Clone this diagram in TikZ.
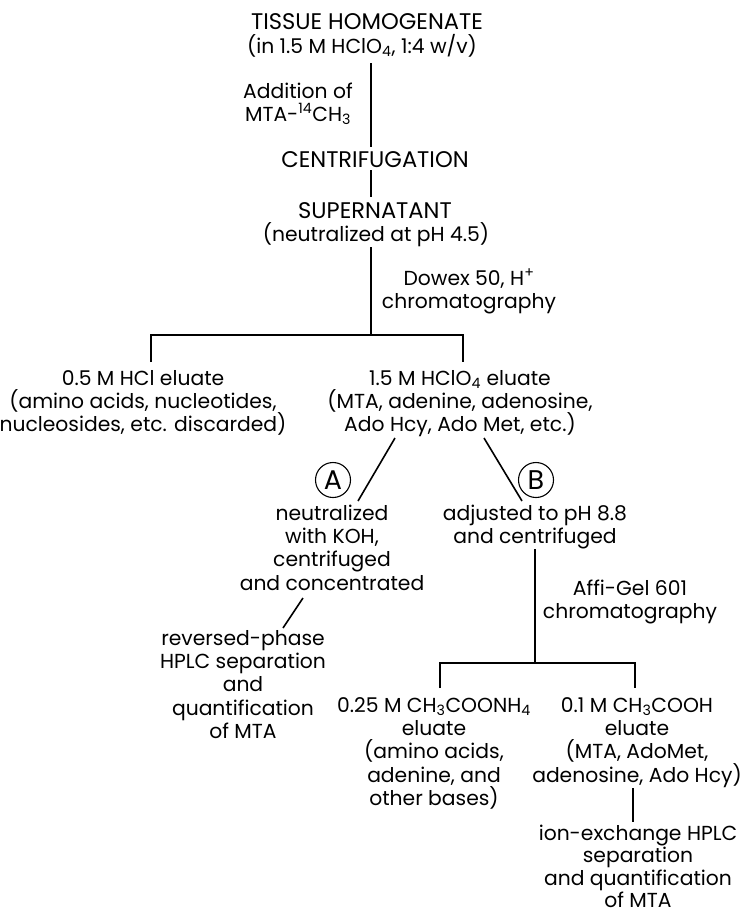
\documentclass[tikz,border=0pt]{standalone}
\usepackage{fontspec}
\setmainfont{Poppins}
% first-line strut: every block hangs 20pt above its first baseline
\newcommand\lead{\rule{0pt}{20pt}}
\begin{document}
\begin{tikzpicture}[x=1pt,y=-1pt,
  txt/.style={align=center,inner sep=0pt,anchor=north,font=\fontsize{20.3}{23.3}\selectfont},
  caps/.style={align=center,inner sep=0pt,anchor=north,font=\fontsize{22.6}{23.3}\selectfont},
  link/.style={line width=1.6pt},
  tag/.style={draw,circle,line width=1.1pt,inner sep=0pt,minimum size=35pt,font=\fontsize{27}{27}\selectfont}]
\useasboundingbox (0,0) rectangle (744,916);
% main column (anchor y = first baseline - 20)
\node[caps] (tissue)  at (367,9)   {\lead TISSUE HOMOGENATE};
\node[txt]  (tissue2) at (362,33)  {\lead(in 1.5 M HClO\textsubscript{4}, 1:4 w/v)};
\node[txt]  (add)     at (298,78)  {\lead Addition of\\MTA-\textsuperscript{14}CH\textsubscript{3}};
\node[caps] (centri)  at (375,147) {\lead CENTRIFUGATION};
\node[caps] (super)   at (375,198) {\lead SUPERNATANT};
\node[txt]  (super2)  at (376,221) {\lead(neutralized at pH 4.5)};
\node[txt]  (dowex)   at (469,265) {\lead Dowex 50, H\textsuperscript{+}\\chromatography};
% Dowex 50 eluates
\node[txt] (hcl)  at (143,365) {\lead 0.5 M HCl eluate\\(amino acids, nucleotides,\\nucleosides, etc. discarded)};
\node[txt] (hclo) at (460,365) {\lead 1.5 M HClO\textsubscript{4} eluate\\(MTA, adenine, adenosine,\\Ado Hcy, Ado Met, etc.)};
% route A
\node[tag] (ta) at (333,480) {A};
\node[txt] (neut) at (332,500) {\lead neutralized\\with KOH,\\centrifuged\\and concentrated};
\node[txt] (rp)   at (243,625) {\lead reversed-phase\\HPLC separation\\and\\quantification\\of MTA};
% route B
\node[tag] (tb) at (536,480) {B};
\node[txt] (adj)  at (535,500) {\lead adjusted to pH 8.8\\and centrifuged};
\node[txt] (affi) at (630,575) {\lead Affi-Gel 601\\chromatography};
\node[txt] (amm)  at (434,692) {\lead 0.25 M CH\textsubscript{3}COONH\textsubscript{4}\\eluate\\(amino acids,\\adenine, and\\other bases)};
\node[txt] (acet) at (637,692) {\lead 0.1 M CH\textsubscript{3}COOH\\eluate\\(MTA, AdoMet,\\adenosine, Ado Hcy)};
\node[txt,font=\fontsize{20.3}{22.5}\selectfont] (ion) at (638,820) {\lead ion-exchange HPLC\\separation\\and quantification\\of MTA};
% branch points
\coordinate (s1) at (371,335);
\coordinate (s2) at (535,663);
% connectors
\draw[link] (tissue2.south -| s1) ++(0,6) -- (371,147);
\draw[link] (371,170) -- (371,197);
\draw[link] (371,247) -- (s1);
\draw[link] (151,362) -- (151,335) -- (463,335) -- (463,362);
\draw[link] (395,438) -- (358,501);
\draw[link] (484,438) -- (522,501);
\draw[link] (303,598) -- (283,628);
\draw[link] (535,549) -- (s2);
\draw[link] (440,688) -- (440,663) -- (635,663) -- (635,688);
\draw[link] (633,788) -- (633,822);
\end{tikzpicture}
\end{document}
